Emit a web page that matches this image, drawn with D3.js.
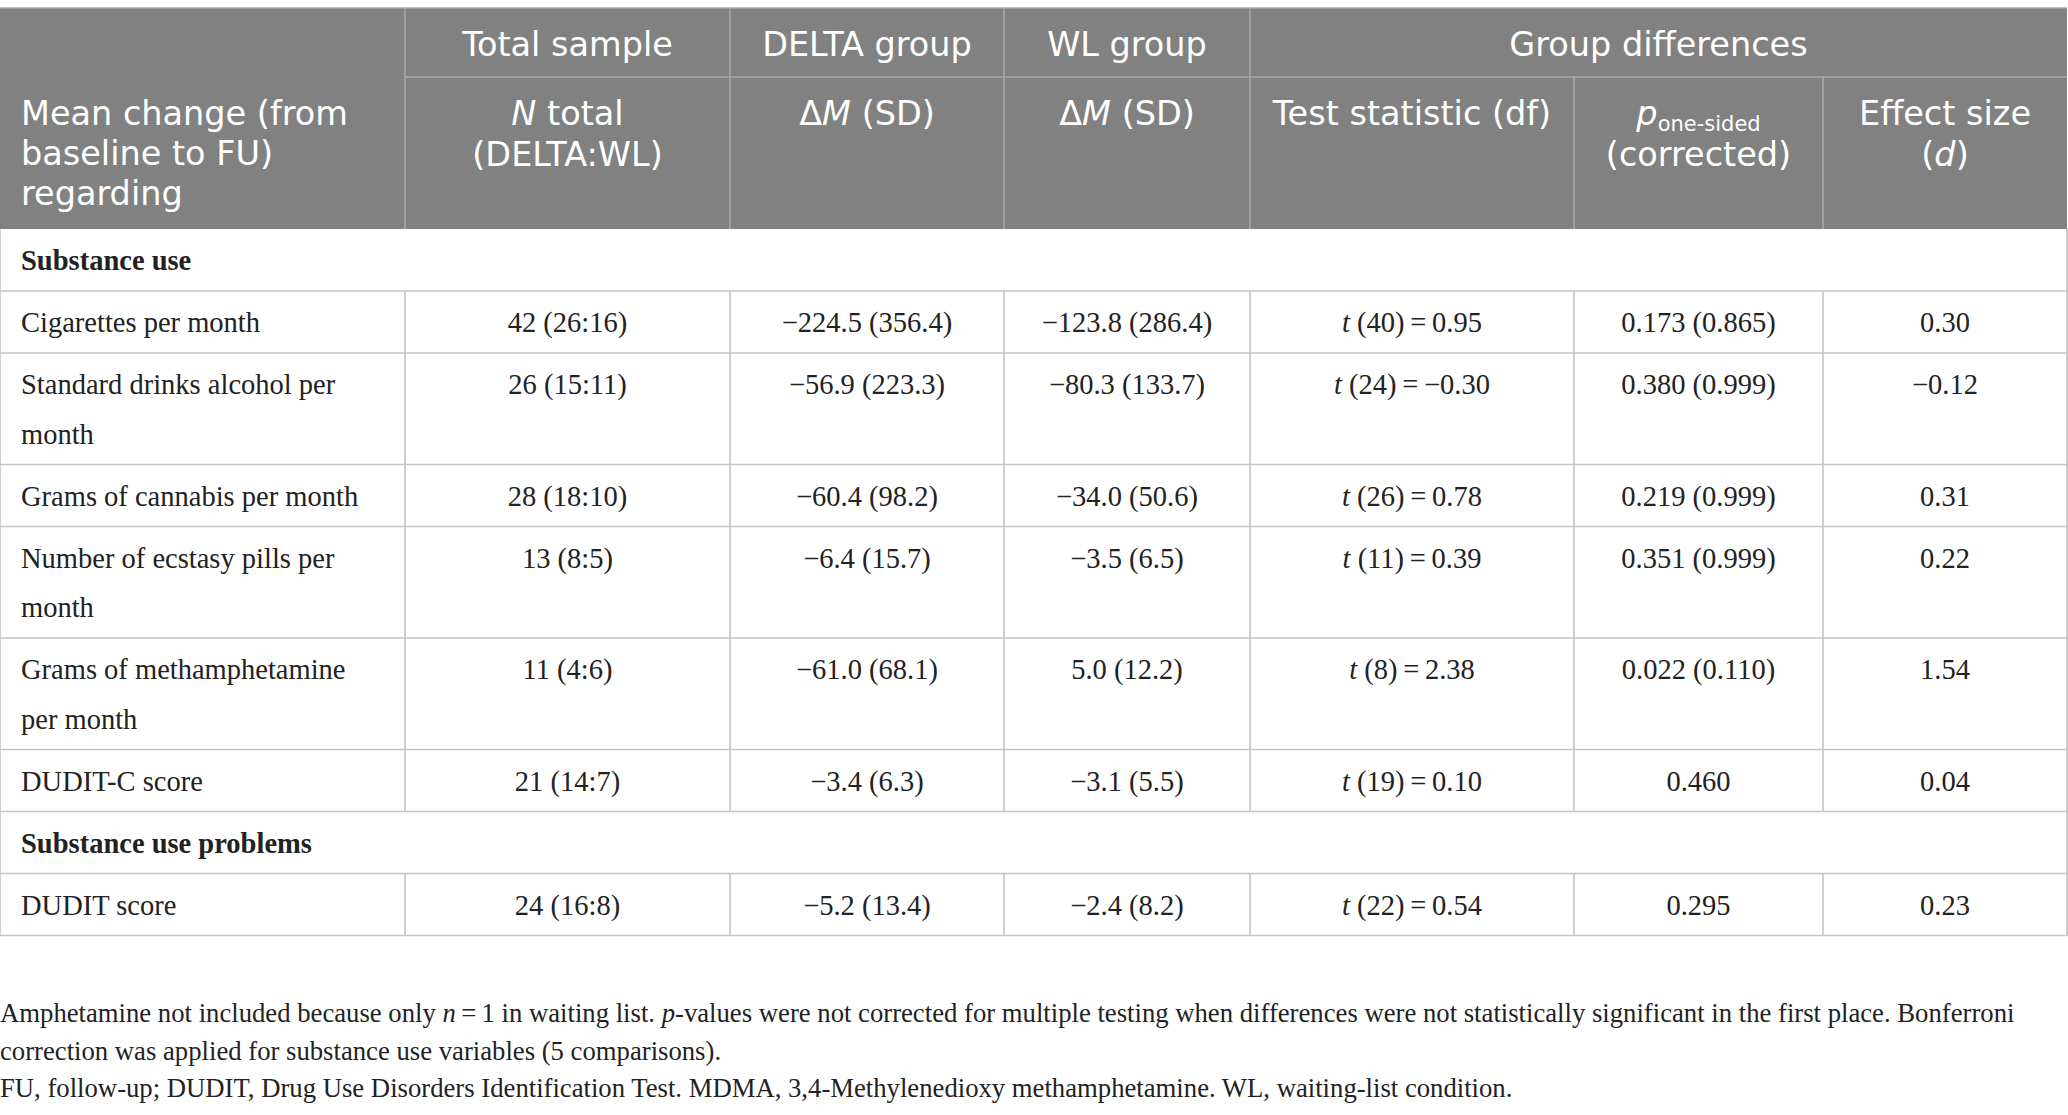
<!DOCTYPE html>
<html>
<head>
<meta charset="utf-8">
<script src="https://cdn.jsdelivr.net/npm/d3@7"></script>
<style>
  body { margin: 0; background: #fff; }
  .hd { fill: #fff; font-family: "DejaVu Sans", sans-serif; font-size: 33.5px; }
  .bd { fill: #222; font-family: "Liberation Serif", serif; font-size: 28.5px; }
  .sec { font-weight: bold; }
  .note { fill: #222; font-family: "Liberation Serif", serif; font-size: 26.7px; }
</style>
</head>
<body>
<div id="table"></div>
<script>
// table content
var rowLabels = ["Cigarettes per month", "Standard drinks alcohol per month", "Grams of cannabis per month",
    "Number of ecstasy pills per month", "Grams of methamphetamine per month", "DUDIT-C score", "DUDIT score"];
var rowSection = [0, 0, 0, 0, 0, 0, 1];
var sections = ["Substance use", "Substance use problems"];
var nTotal = ["42 (26:16)", "26 (15:11)", "28 (18:10)", "13 (8:5)", "11 (4:6)", "21 (14:7)", "24 (16:8)"];
var deltaM = ["−224.5 (356.4)", "−56.9 (223.3)", "−60.4 (98.2)", "−6.4 (15.7)", "−61.0 (68.1)", "−3.4 (6.3)", "−5.2 (13.4)"];
var wlM = ["−123.8 (286.4)", "−80.3 (133.7)", "−34.0 (50.6)", "−3.5 (6.5)", "5.0 (12.2)", "−3.1 (5.5)", "−2.4 (8.2)"];
var tDf = [40, 24, 26, 11, 8, 19, 22];
var tVal = ["0.95", "−0.30", "0.78", "0.39", "2.38", "0.10", "0.54"];
var pVals = ["0.173 (0.865)", "0.380 (0.999)", "0.219 (0.999)", "0.351 (0.999)", "0.022 (0.110)", "0.460", "0.295"];
var effect = ["0.30", "−0.12", "0.31", "0.22", "1.54", "0.04", "0.23"];

var topHeaders = ["Total sample", "DELTA group", "WL group", "Group differences"];
var noteLines = [
    [["Amphetamine not included because only ", 0], ["n", 1], ["\u2009=\u20091 in waiting list. ", 0], ["p", 1],
     ["-values were not corrected for multiple testing when differences were not statistically significant in the first place. Bonferroni", 0]],
    [["correction was applied for substance use variables (5 comparisons).", 0]],
    [["FU, follow-up; DUDIT, Drug Use Disorders Identification Test. MDMA, 3,4-Methylenedioxy methamphetamine. WL, waiting-list condition.", 0]]
];

var svgWidth = 2068;
var svgHeight = 1115;

// layout
var colEdges = [0, 405, 730, 1004, 1250, 1574, 1823, 2067];
var headTop = 8, headMid = 77, headBottom = 229;
var padX = 21, firstBase = 41, lineGap = 49.5, rowH = 62;
var wrapWidth = 358;

var x = d3.scaleOrdinal().domain(d3.range(colEdges.length)).range(colEdges);
function colMid(i) { return (x(i) + x(i + 1)) / 2; }

var svg = d3.select("#table").append("svg")
    .attr("width", svgWidth)
    .attr("height", svgHeight);

svg.append("rect").attr("width", svgWidth).attr("height", svgHeight).attr("fill", "#fff");

// header block
svg.append("rect")
    .attr("x", x(0)).attr("y", headTop)
    .attr("width", x(7) - x(0)).attr("height", headBottom - headTop)
    .attr("fill", "#808180");

var hLines = svg.append("g").attr("stroke", "#a9aaa9").attr("stroke-width", 1.5);
hLines.append("line").attr("x1", x(0)).attr("x2", x(7)).attr("y1", headTop).attr("y2", headTop);
hLines.append("line").attr("x1", x(1)).attr("x2", x(7)).attr("y1", headMid).attr("y2", headMid);
[1, 2, 3, 4].forEach(function(i) {
    hLines.append("line").attr("x1", x(i)).attr("x2", x(i)).attr("y1", headTop).attr("y2", headBottom);
});
[5, 6].forEach(function(i) {
    hLines.append("line").attr("x1", x(i)).attr("x2", x(i)).attr("y1", headMid).attr("y2", headBottom);
});

var topMid = [colMid(1), colMid(2), colMid(3), (x(4) + x(7)) / 2];
svg.selectAll(".topHead")
    .data(topHeaders)
    .enter()
    .append("text")
    .attr("class", "hd topHead")
    .attr("x", (d, i) => topMid[i])
    .attr("y", 56)
    .attr("text-anchor", "middle")
    .text(d => d);

["Mean change (from", "baseline to FU)", "regarding"].forEach(function(t, i) {
    svg.append("text").attr("class", "hd").attr("x", padX).attr("y", 125 + i * 40).text(t);
});

// second header row, mixed italic parts
var subHeads = [
    [[["N", 1], [" total", 0]], [["(DELTA:WL)", 0]]],
    [[["Δ", 0], ["M", 1], [" (SD)", 0]]],
    [[["Δ", 0], ["M", 1], [" (SD)", 0]]],
    [[["Test statistic (df)", 0]]],
    [[["p", 1], ["one-sided", 2]], [["(corrected)", 0]]],
    [[["Effect size", 0]], [["(", 0], ["d", 1], [")", 0]]]
];
subHeads.forEach(function(lines, c) {
    lines.forEach(function(parts, li) {
        var t = svg.append("text").attr("class", "hd")
            .attr("x", colMid(c + 1)).attr("y", 125 + li * 41)
            .attr("text-anchor", "middle");
        parts.forEach(function(p) {
            var s = t.append("tspan").text(p[0]);
            if (p[1] === 1) s.attr("font-style", "italic");
            if (p[1] === 2) s.attr("font-size", "21px").attr("dy", 6);
        });
    });
});

// body rows
var rows = [];
rowLabels.forEach(function(lab, i) {
    if (i === 0 || rowSection[i] !== rowSection[i - 1]) {
        rows.push({ type: "sec", label: sections[rowSection[i]] });
    }
    rows.push({ type: "data", i: i, label: lab });
});

// measure label wrapping
var probe = svg.append("text").attr("class", "bd");
function wrap(str) {
    var words = str.split(" "), lines = [], cur = "";
    words.forEach(function(w) {
        var test = cur ? cur + " " + w : w;
        probe.text(test);
        if (probe.node().getComputedTextLength() > wrapWidth && cur) {
            lines.push(cur);
            cur = w;
        } else {
            cur = test;
        }
    });
    lines.push(cur);
    return lines;
}
rows.forEach(function(r) { r.lines = r.type === "data" ? wrap(r.label) : [r.label]; });
probe.remove();

var yPos = headBottom;
rows.forEach(function(r) {
    r.y0 = yPos;
    r.h = rowH + (r.lines.length - 1) * lineGap;
    yPos += r.h;
    r.y1 = yPos;
});

var grid = svg.append("g").attr("stroke", "#c4c4c4").attr("stroke-width", 1.6);
rows.forEach(function(r) {
    grid.append("line").attr("x1", x(0)).attr("x2", x(7)).attr("y1", r.y1).attr("y2", r.y1);
    var inner = r.type === "data" ? d3.range(1, 7) : [];
    [0, 7].concat(inner).forEach(function(c) {
        grid.append("line").attr("x1", x(c)).attr("x2", x(c)).attr("y1", r.y0).attr("y2", r.y1);
    });
});

var rowG = svg.selectAll(".row")
    .data(rows)
    .enter()
    .append("g")
    .attr("class", "row")
    .attr("transform", d => `translate(0, ${d.y0 + firstBase})`);

rowG.each(function(r) {
    var g = d3.select(this);
    r.lines.forEach(function(l, li) {
        g.append("text")
            .attr("class", r.type === "sec" ? "bd sec" : "bd")
            .attr("x", padX)
            .attr("y", li * lineGap)
            .text(l);
    });
    if (r.type !== "data") return;
    var i = r.i;
    var cells = [nTotal[i], deltaM[i], wlM[i], null, pVals[i], effect[i]];
    cells.forEach(function(v, c) {
        var t = g.append("text").attr("class", "bd")
            .attr("x", colMid(c + 1)).attr("y", 0)
            .attr("text-anchor", "middle");
        if (v === null) {
            t.append("tspan").attr("font-style", "italic").text("t");
            t.append("tspan").text(" (" + tDf[i] + ")\u2009=\u2009" + tVal[i]);
        } else {
            t.text(v);
        }
    });
});

// notes under the table
noteLines.forEach(function(parts, li) {
    var t = svg.append("text").attr("class", "note")
        .attr("x", 0).attr("y", 1022 + li * 37.5);
    parts.forEach(function(p) {
        var s = t.append("tspan").text(p[0]);
        if (p[1] === 1) s.attr("font-style", "italic");
    });
});
</script>
</body>
</html>
